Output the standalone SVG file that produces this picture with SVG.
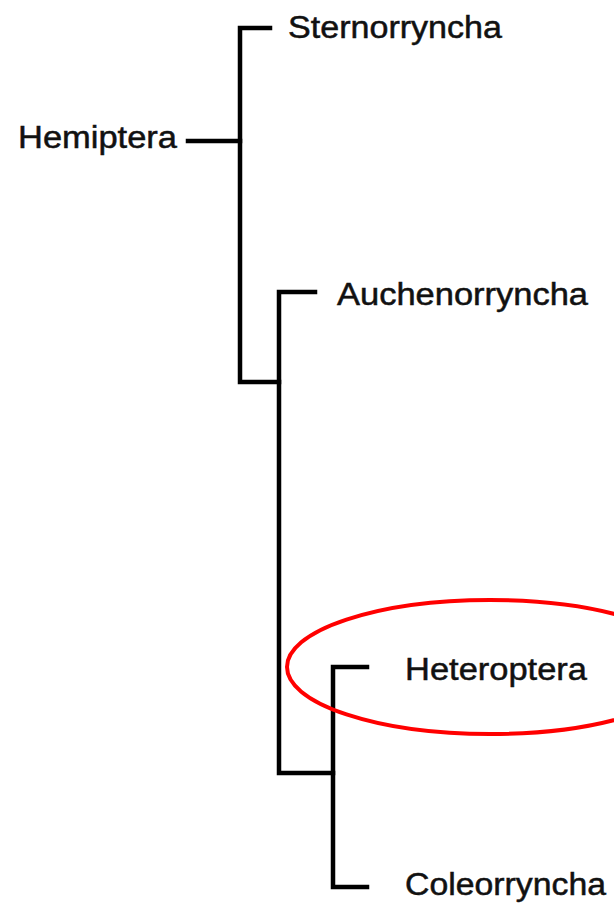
<svg xmlns="http://www.w3.org/2000/svg" width="614" height="907" viewBox="0 0 614 907">
<style>
.lbl{font-family:"Liberation Sans",Arial,Helvetica,sans-serif;font-size:31px;fill:#111;stroke:#111;stroke-width:0.5}
.edge{stroke:#000;stroke-width:4.5;fill:none;stroke-linecap:square;stroke-linejoin:miter}
.hl{stroke:#f00;stroke-width:4;fill:none}
</style>
<rect width="614" height="907" fill="#fff"/>
<g id="connectors">
<path class="edge" d="M188,141 H240"/>
<path class="edge" d="M270,28 H240 V382 H279"/>
<path class="edge" d="M315,292 H279 V773 H333"/>
<path class="edge" d="M367,667 H333 V887 H367"/>
</g>
<g id="node-hemiptera"><text class="lbl" x="18" y="148" textLength="159" lengthAdjust="spacingAndGlyphs">Hemiptera</text></g>
<g id="node-sternorryncha"><text class="lbl" x="288" y="38" textLength="214" lengthAdjust="spacingAndGlyphs">Sternorryncha</text></g>
<g id="node-auchenorryncha"><text class="lbl" x="337" y="305" textLength="251" lengthAdjust="spacingAndGlyphs">Auchenorryncha</text></g>
<g id="node-heteroptera"><text class="lbl" x="405" y="680" textLength="182" lengthAdjust="spacingAndGlyphs">Heteroptera</text></g>
<g id="node-coleorryncha"><text class="lbl" x="405" y="895" textLength="201" lengthAdjust="spacingAndGlyphs">Coleorryncha</text></g>
<g id="highlight"><ellipse class="hl" cx="490" cy="667" rx="203" ry="67"/></g>
</svg>
